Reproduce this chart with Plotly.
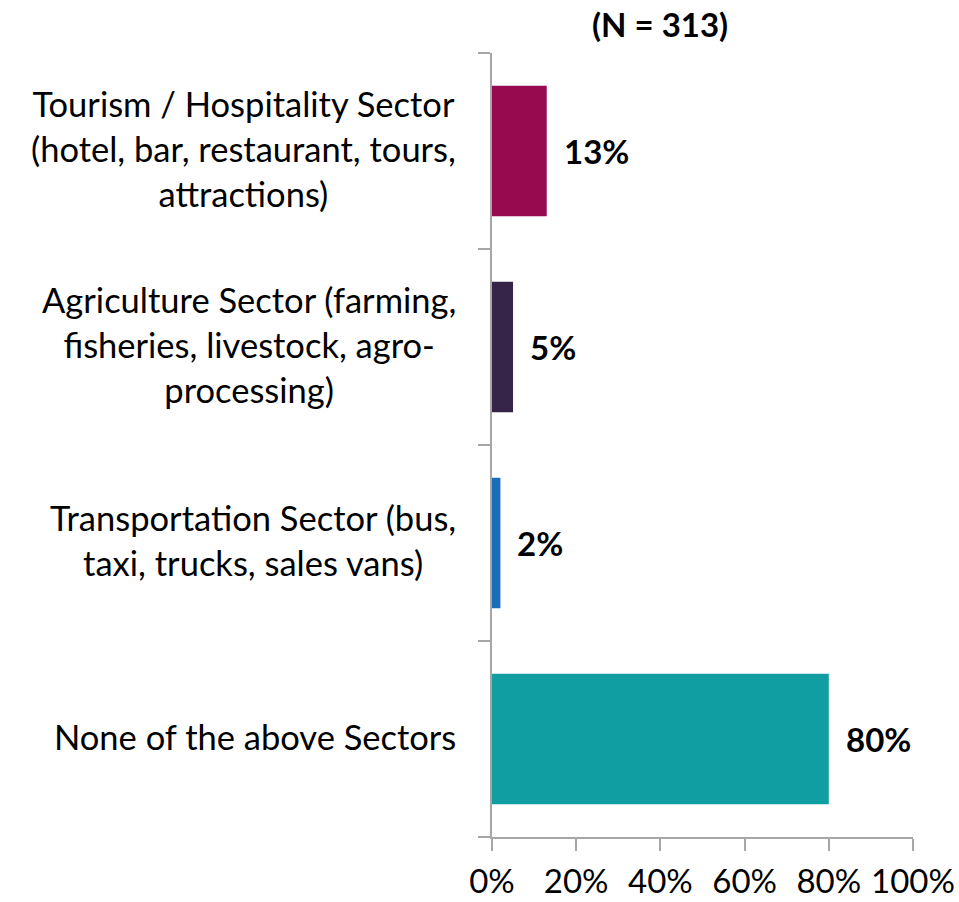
import plotly.graph_objects as go

categories = [
    "Tourism / Hospitality Sector<br>(hotel, bar, restaurant, tours,<br>attractions)",
    "Agriculture Sector (farming,<br>fisheries, livestock, agro-<br>processing)",
    "Transportation Sector (bus,<br>taxi, trucks, sales vans)",
    "None of the above Sectors",
]
values = [13, 5, 2, 80]
value_labels = ["13%", "5%", "2%", "80%"]
colors = ["#970A4F", "#372549", "#1D6CB8", "#119EA3"]
x_ticks = [0, 20, 40, 60, 80, 100]
x_tick_labels = ["0%", "20%", "40%", "60%", "80%", "100%"]
title_text = "(N = 313)"

FONT = "Lato, Open Sans, sans-serif"
AXIS_COLOR = "#A6A6A6"

fig = go.Figure()
fig.add_trace(go.Bar(
    x=values,
    y=list(range(len(categories))),
    orientation="h",
    marker=dict(color=colors, line=dict(width=0)),
    width=0.665,
    hoverinfo="skip",
))

annotations = []
for i, (cat, v, lab) in enumerate(zip(categories, values, value_labels)):
    annotations.append(dict(
        x=0, y=i, xref="x", yref="y", text=cat, showarrow=False,
        xanchor="right", yanchor="middle", align="center", xshift=-34, yshift=3,
        font=dict(family=FONT, size=34.5, color="#000000"),
    ))
    annotations.append(dict(
        x=v, y=i, xref="x", yref="y", text="<b>" + lab + "</b>", showarrow=False,
        xanchor="left", yanchor="middle", xshift=15,
        font=dict(family=FONT, size=33, color="#000000"),
    ))
annotations.append(dict(
    x=0.399, y=1, xref="paper", yref="paper", text="<b>" + title_text + "</b>",
    showarrow=False, xanchor="center", yanchor="middle", yshift=29,
    font=dict(family=FONT, size=33, color="#000000"),
))

fig.update_layout(
    template="none",
    width=959, height=902,
    autosize=False,
    margin=dict(l=492, r=46, t=53, b=65, pad=0),
    paper_bgcolor="white", plot_bgcolor="white",
    showlegend=False,
    annotations=annotations,
    xaxis=dict(
        range=[0, 100], tickvals=x_ticks, ticktext=x_tick_labels,
        automargin=False, ticklabelstandoff=2,
        showline=True, linecolor=AXIS_COLOR, linewidth=2,
        ticks="outside", ticklen=12, tickcolor=AXIS_COLOR, tickwidth=2,
        showgrid=False, zeroline=False,
        tickfont=dict(family=FONT, size=33, color="#000000"),
    ),
    yaxis=dict(
        type="linear", range=[3.5, -0.5], automargin=False,
        tickvals=[-0.5, 0.5, 1.5, 2.5, 3.5], showticklabels=False,
        showline=True, linecolor=AXIS_COLOR, linewidth=2,
        ticks="outside", ticklen=12, tickcolor=AXIS_COLOR, tickwidth=2,
        showgrid=False, zeroline=False,
    ),
)

fig.write_html(
    "out.html",
    config={"displayModeBar": False, "responsive": False},
    post_script="document.body.style.margin='0px';document.body.style.overflow='hidden';",
)
